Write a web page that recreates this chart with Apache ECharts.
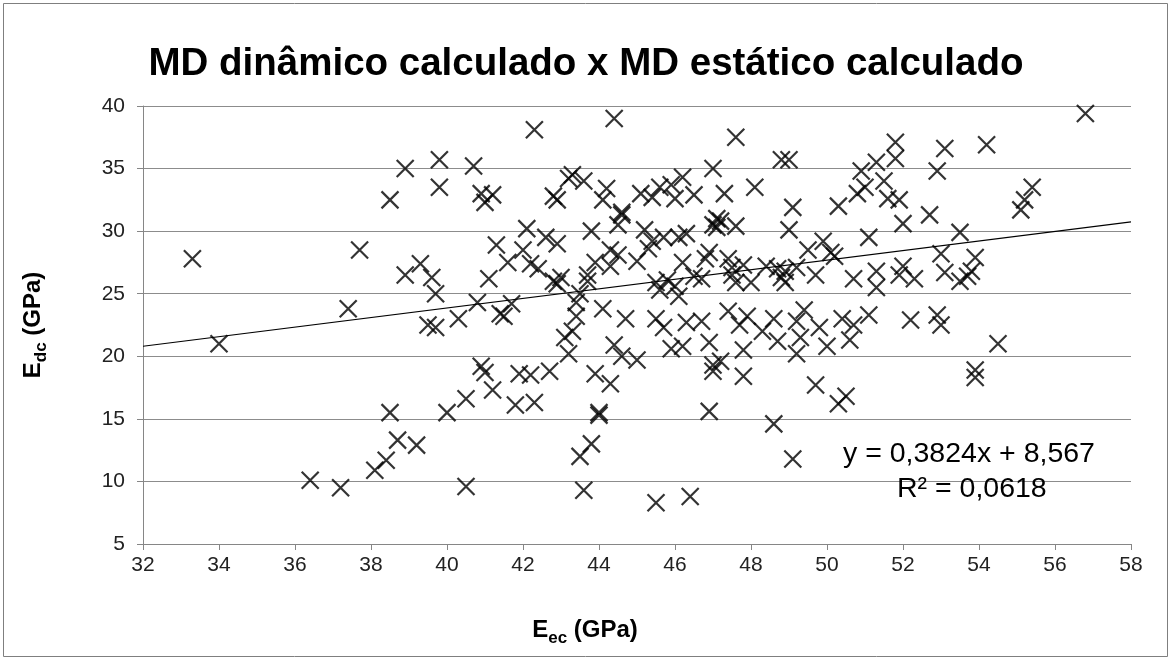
<!DOCTYPE html>
<html>
<head>
<meta charset="utf-8">
<script src="https://cdn.jsdelivr.net/npm/echarts@6/dist/echarts.min.js"></script>
<style>html,body{margin:0;padding:0;background:#fff}#c{width:1172px;height:661px}</style>
</head>
<body>
<div id="c"></div>
<script>
// Eec (GPa) values
var eec = [33.3,34.0,36.4,37.2,37.4,37.7,38.1,38.4,38.5,38.5,38.7,38.9,38.9,39.2,39.3,39.5,39.6,39.7,39.7,39.8,39.8,40.0,40.3,40.5,40.5,40.7,40.8,40.9,40.9,41.0,41.0,41.1,41.2,41.2,41.3,41.4,41.5,41.6,41.7,41.8,41.9,42.0,42.1,42.2,42.2,42.3,42.3,42.4,42.6,42.7,42.8,42.8,42.9,42.9,42.9,43.0,43.1,43.2,43.2,43.3,43.3,43.4,43.4,43.5,43.5,43.6,43.6,43.7,43.7,43.8,43.8,43.9,43.9,44.0,44.0,44.1,44.1,44.2,44.3,44.3,44.3,44.4,44.4,44.5,44.5,44.6,44.6,44.7,44.6,45.0,45.0,45.1,45.2,45.3,45.4,45.4,45.5,45.5,45.5,45.6,45.6,45.7,45.7,45.8,45.9,45.9,46.0,46.0,46.1,46.1,46.2,46.2,46.2,46.3,46.3,46.4,46.5,46.5,46.7,46.7,46.8,46.9,46.9,46.9,47.0,47.0,47.0,47.0,47.1,47.1,47.2,47.2,47.3,47.4,47.4,47.5,47.5,47.6,47.6,47.6,47.7,47.8,47.8,47.8,47.9,48.0,48.1,48.3,48.4,48.6,48.6,48.7,48.7,48.8,48.8,48.9,48.9,49.0,49.0,49.1,49.1,49.2,49.2,49.2,49.3,49.4,49.5,49.7,49.7,49.8,49.9,50.0,50.1,50.2,50.3,50.3,50.4,50.5,50.6,50.7,50.7,50.8,50.9,51.0,51.1,51.1,51.3,51.3,51.3,51.5,51.6,51.8,51.8,51.9,51.9,52.0,52.0,52.2,52.3,52.7,52.9,52.9,53.0,53.0,53.1,53.1,53.5,53.5,53.7,53.8,53.9,53.9,53.9,54.2,54.5,55.1,55.2,55.4,56.8];
// Edc (GPa) values
var edc = [27.8,21.0,10.1,9.5,23.8,28.5,10.9,11.7,32.5,15.5,13.3,26.5,35.0,12.9,27.4,22.5,26.3,25.0,22.3,35.7,33.5,15.5,23.0,16.6,9.6,35.2,24.3,33.0,19.2,18.7,32.3,26.2,32.9,17.3,28.9,23.4,23.2,27.5,24.2,16.1,18.6,28.5,30.2,27.4,18.5,16.3,38.1,27.0,29.5,18.8,32.8,26.0,32.5,29.0,25.8,26.3,21.5,34.2,20.2,34.5,22.0,24.3,23.2,25.0,12.0,9.3,34.0,26.0,26.5,13.0,30.0,27.5,18.6,15.5,15.3,32.5,23.8,33.4,28.5,27.2,17.8,20.9,39.0,30.5,28.1,31.3,31.5,23.0,20.0,27.6,19.7,33.0,30.1,28.6,32.7,29.2,25.9,23.0,8.3,33.5,25.3,22.3,29.5,26.1,20.6,33.7,25.6,32.6,29.5,24.8,34.3,27.5,20.8,29.8,22.7,8.8,32.9,26.4,22.8,26.2,27.8,28.3,21.1,15.6,35.0,30.5,18.8,19.3,31.0,30.3,19.6,30.8,33.0,23.6,27.8,26.5,27.1,37.5,30.4,25.9,22.5,27.3,20.5,18.4,23.2,25.9,33.5,22.0,27.2,14.6,23.0,21.2,27.0,35.7,26.3,26.8,25.9,35.7,30.1,31.9,11.8,27.1,22.8,20.2,21.5,23.7,28.5,17.7,26.5,22.3,29.2,20.8,28.3,28.0,32.0,16.2,23.0,16.8,21.3,22.5,26.2,33.0,34.8,33.5,29.5,23.3,35.5,26.8,25.5,34.0,32.6,35.8,37.1,32.5,26.5,30.6,27.2,22.9,26.2,31.3,34.8,23.3,28.2,22.5,36.6,26.7,29.9,26.0,26.4,26.8,27.9,18.9,18.3,36.9,21.0,31.7,32.5,33.5,39.4];
var xTicks = [32,34,36,38,40,42,44,46,48,50,52,54,56,58];
var yTicks = [5,10,15,20,25,30,35,40];
var slope = 0.3824, intercept = 8.567;
var eqText = 'y = 0,3824x + 8,567';
var r2Text = 'R² = 0,0618';

var points = eec.map(function(v,i){return [v, edc[i]];});
var xMin = xTicks[0], xMax = xTicks[xTicks.length-1];
var trend = [[xMin, slope*xMin+intercept],[xMax, slope*xMax+intercept]];

var F = 'Liberation Sans, Arial, sans-serif';
var nameRich = {
  a:{fontFamily:F, fontSize:24, fontWeight:'bold', color:'#000', padding:[0,0,6,0]},
  b:{fontFamily:F, fontSize:17, fontWeight:'bold', color:'#000', padding:[11,0,0,0]}
};
var chart = echarts.init(document.getElementById('c'));
chart.setOption({
  animation:false,
  backgroundColor:'#fff',
  title:{text:'MD dinâmico calculado x MD estático calculado', left:'center', top:40,
    textStyle:{fontFamily:F, fontSize:38.5, fontWeight:'bold', color:'#000'}},
  grid:{left:143, right:41, top:106, bottom:117},
  xAxis:{type:'value', min:xMin, max:xMax, interval:2,
    name:'{a|E}{b|ec}{a| (GPa)}', nameLocation:'middle', nameGap:74,
    nameTextStyle:{rich:nameRich, padding:[0,104,0,0]},
    axisLine:{show:true, lineStyle:{color:'#868686', width:1}},
    axisTick:{show:true, inside:false, length:6, lineStyle:{color:'#868686'}},
    axisLabel:{fontFamily:F, fontSize:21, color:'#222', margin:11},
    splitLine:{show:false}},
  yAxis:{type:'value', min:yTicks[0], max:yTicks[yTicks.length-1], interval:5,
    name:'{a|E}{b|dc}{a| (GPa)}', nameLocation:'middle', nameGap:92, nameRotate:90,
    nameTextStyle:{rich:nameRich},
    axisLine:{show:true, lineStyle:{color:'#868686', width:1}},
    axisTick:{show:true, inside:false, length:6, lineStyle:{color:'#868686'}},
    axisLabel:{fontFamily:F, fontSize:21, color:'#222', margin:18},
    splitLine:{show:true, lineStyle:{color:'#8c8c8c', width:1}}},
  series:[
    {type:'scatter', data:points, symbol:'path://M0,0L10,10M10,0L0,10', symbolSize:17,
      itemStyle:{color:'rgba(0,0,0,0)', borderColor:'#000', borderWidth:2.2}, z:3},
    {type:'line', data:trend, symbol:'none', lineStyle:{color:'#000', width:1.2}, z:4}
  ],
  graphic:[
    {type:'rect', shape:{x:3.5, y:3.5, width:1164, height:653}, style:{fill:'none', stroke:'#7f7f7f', lineWidth:1}, z:-1},
    {type:'text', left:843, top:440, style:{text:eqText, fontFamily:F, fontSize:28.5, fill:'#000'}, z:10},
    {type:'text', left:897, top:475, style:{text:r2Text, fontFamily:F, fontSize:28.5, fill:'#000'}, z:10}
  ]
});
</script>
</body>
</html>
